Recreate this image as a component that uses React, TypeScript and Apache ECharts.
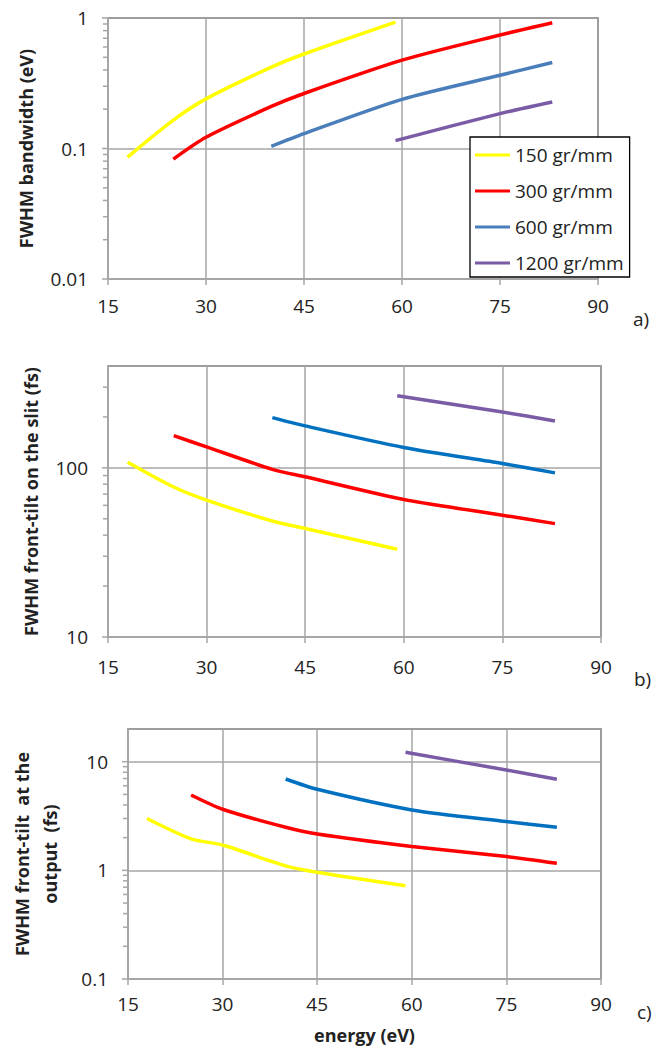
import React, { useEffect, useRef } from 'react';
import * as echarts from 'echarts';

// ---------- data ----------
const seriesNames = ['150 gr/mm', '300 gr/mm', '600 gr/mm', '1200 gr/mm'];

const energy150 = [18, 25, 30, 40, 45, 59];
const energy300 = [25, 30, 40, 45, 60, 75, 83];
const energy600 = [40, 45, 60, 75, 83];
const energy1200 = [59, 75, 83];

// a) FWHM bandwidth (eV)
const bandwidth150 = [0.086, 0.165, 0.24, 0.42, 0.53, 0.93];
const bandwidth300 = [0.083, 0.122, 0.21, 0.264, 0.475, 0.74, 0.92];
const bandwidth600 = [0.104, 0.13, 0.238, 0.364, 0.456];
const bandwidth1200 = [0.115, 0.185, 0.227];

// b) FWHM front-tilt on the slit (fs)
const slit150 = [108, 77, 64.4, 48.5, 43.8, 33];
const slit300 = [155, 133, 98, 88.5, 65, 52.5, 46.8];
const slit600 = [198, 177, 132, 106, 93.4];
const slit1200 = [267, 214, 189];

// c) FWHM front-tilt at the output (fs)
const output150 = [3.0, 1.95, 1.71, 1.1, 0.96, 0.72];
const output300 = [4.94, 3.65, 2.49, 2.16, 1.66, 1.34, 1.16];
const output600 = [6.93, 5.57, 3.6, 2.81, 2.49];
const output1200 = [12.2, 8.38, 6.89];

// axis ticks
const xTickLabels = [15, 30, 45, 60, 75, 90];
const majorTicksA = [0.01, 0.1, 1];
const minorTicksA = [0.02, 0.03, 0.04, 0.05, 0.06, 0.07, 0.08, 0.09, 0.2, 0.3, 0.4, 0.5, 0.6, 0.7, 0.8, 0.9];
const majorTicksB = [10, 100];
const minorTicksB = [20, 30, 40, 50, 60, 70, 80, 90, 200, 300];
const majorTicksC = [0.1, 1, 10];
const minorTicksC = [0.2, 0.3, 0.4, 0.5, 0.6, 0.7, 0.8, 0.9, 2, 3, 4, 5, 6, 7, 8, 9];

const FONT = '"Open Sans", "Liberation Sans", sans-serif';
const GRID_COLOR = '#a6a6a6';
const TEXT_COLOR = '#222';

export default function App() {
  const ref = useRef<HTMLDivElement>(null);

  useEffect(() => {
    const chart = echarts.init(ref.current!, null, { renderer: 'svg' });

    const pair = (xs: number[], ys: number[]) => xs.map((x, i) => [x, ys[i]]);

    const panels = [
      {
        grid: { left: 108, top: 18, width: 490, height: 261 },
        yMin: 0.01, yMax: 1, xMargin: 17,
        yName: 'FWHM bandwidth (eV)', yNameGap: 57,
        colors: ['#ffff00', '#ff0000', '#4a7ebb', '#7a5ba6'],
        data: [pair(energy150, bandwidth150), pair(energy300, bandwidth300), pair(energy600, bandwidth600), pair(energy1200, bandwidth1200)],
        major: majorTicksA, minor: minorTicksA,
      },
      {
        grid: { left: 108, top: 366, width: 493, height: 271 },
        yMin: 10, yMax: 400, xMargin: 20,
        yName: 'FWHM front-tilt on the slit (fs)', yNameGap: 61,
        colors: ['#ffff00', '#ff0000', '#0070c0', '#7a5ba6'],
        data: [pair(energy150, slit150), pair(energy300, slit300), pair(energy600, slit600), pair(energy1200, slit1200)],
        major: majorTicksB, minor: minorTicksB,
      },
      {
        grid: { left: 128, top: 729, width: 473, height: 250 },
        yMin: 0.1, yMax: 20, xMargin: 15,
        yName: 'FWHM front-tilt  at the\noutput  (fs)', yNameGap: 64,
        colors: ['#ffff00', '#ff0000', '#0070c0', '#7a5ba6'],
        data: [pair(energy150, output150), pair(energy300, output300), pair(energy600, output600), pair(energy1200, output1200)],
        major: majorTicksC, minor: minorTicksC,
      },
    ];

    const isDecade = (v: number) => {
      const l = Math.log10(v);
      return Math.abs(l - Math.round(l)) < 1e-6;
    };

    const grid = panels.map((p) => ({
      ...p.grid,
      show: true,
      borderColor: '#595959',
      borderWidth: 1.5,
      backgroundColor: 'transparent',
    }));

    const xAxis = panels.map((p, i) => ({
      gridIndex: i,
      type: 'value',
      min: xTickLabels[0],
      max: xTickLabels[xTickLabels.length - 1],
      interval: 15,
      axisLine: { show: true, lineStyle: { color: GRID_COLOR, width: 2 } },
      axisTick: { show: true, length: 6, lineStyle: { color: GRID_COLOR, width: 1.5 } },
      axisLabel: { fontSize: 19, fontFamily: FONT, color: TEXT_COLOR, margin: p.xMargin },
      splitLine: { show: true, lineStyle: { color: GRID_COLOR, width: 1.5 } },
      name: i === 2 ? 'energy (eV)' : '',
      nameLocation: 'middle',
      nameGap: 47,
      nameTextStyle: { fontSize: 18, fontWeight: 'bold', fontFamily: FONT, color: TEXT_COLOR },
    }));

    const yAxis = panels.map((p, i) => ({
      gridIndex: i,
      type: 'log',
      logBase: 10,
      min: p.yMin,
      max: p.yMax,
      axisLine: { show: true, lineStyle: { color: GRID_COLOR, width: 2 } },
      axisTick: { show: false },
      axisLabel: {
        fontSize: 19, fontFamily: FONT, color: TEXT_COLOR, margin: 20,
        formatter: (v: number) => (isDecade(v) ? String(Number(v.toPrecision(6))) : ''),
      },
      splitLine: { show: true, lineStyle: { color: GRID_COLOR, width: 1.5 } },
      name: p.yName,
      nameLocation: 'middle',
      nameGap: p.yNameGap,
      nameTextStyle: { fontSize: 18, fontWeight: 'bold', fontFamily: FONT, color: TEXT_COLOR, lineHeight: 28 },
    }));

    const series: any[] = [];
    panels.forEach((p, i) => {
      p.data.forEach((d, k) => {
        series.push({
          type: 'line',
          name: seriesNames[k],
          xAxisIndex: i,
          yAxisIndex: i,
          data: d,
          color: p.colors[k],
          showSymbol: false,
          symbol: 'none',
          smooth: 0.25,
          lineStyle: { color: p.colors[k], width: 3.5 },
          z: 3,
        });
      });
      const tickData = [
        ...p.major.map((v) => [xTickLabels[0], v, 1]),
        ...p.minor.map((v) => [xTickLabels[0], v, 0]),
      ];
      series.push({
        type: 'custom',
        name: 'ticks' + i,
        xAxisIndex: i,
        yAxisIndex: i,
        data: tickData,
        silent: true,
        clip: false,
        z: 1,
        renderItem: (params: any, api: any) => {
          const pt = api.coord([api.value(0), api.value(1)]);
          const len = api.value(2) ? 6 : 5;
          return {
            type: 'line',
            shape: { x1: pt[0] - len, y1: pt[1], x2: pt[0], y2: pt[1] },
            style: { stroke: GRID_COLOR, lineWidth: 1.5 },
          };
        },
      });
    });

    const option: any = {
      animation: false,
      backgroundColor: '#ffffff',
      grid,
      xAxis,
      yAxis,
      series,
      legend: {
        data: seriesNames,
        left: 470,
        top: 137,
        orient: 'vertical',
        backgroundColor: '#ffffff',
        borderColor: '#000000',
        borderWidth: 1.3,
        padding: [7, 6, 3, 5],
        itemGap: 14,
        itemWidth: 35,
        itemHeight: 3,
        icon: 'rect',
        selectedMode: false,
        textStyle: { fontSize: 19, fontFamily: FONT, color: TEXT_COLOR, lineHeight: 22 },
      },
      graphic: [
        { type: 'text', left: 633, top: 309, style: { text: 'a)', fontSize: 19, fontFamily: FONT, fill: TEXT_COLOR } },
        { type: 'text', left: 634, top: 669, style: { text: 'b)', fontSize: 19, fontFamily: FONT, fill: TEXT_COLOR } },
        { type: 'text', left: 637, top: 1002, style: { text: 'c)', fontSize: 19, fontFamily: FONT, fill: TEXT_COLOR } },
      ],
    };

    chart.setOption(option);
    return () => chart.dispose();
  }, []);

  return (
    <div
      ref={ref}
      style={{ position: 'absolute', left: 0, top: 0, width: 664, height: 1046, background: '#fff' }}
    />
  );
}
